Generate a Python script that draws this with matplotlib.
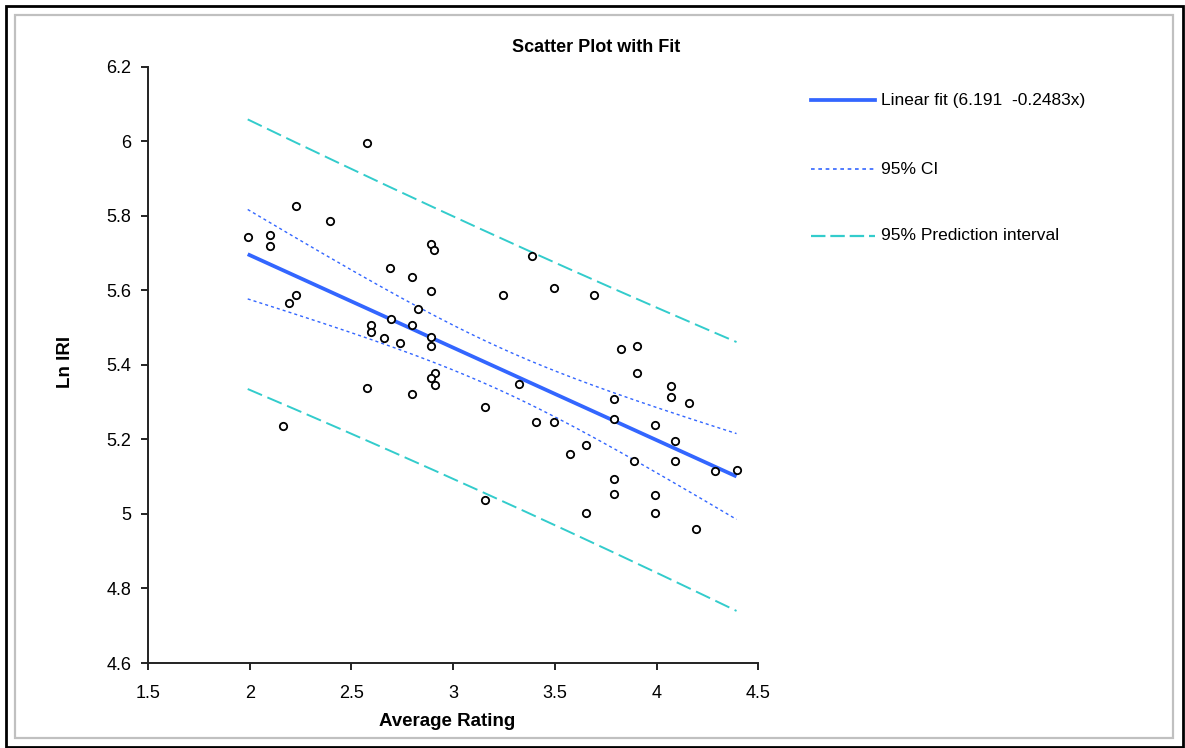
import numpy as np
import matplotlib
matplotlib.use("Agg")
import matplotlib.pyplot as plt
from matplotlib.patches import Rectangle

plt.rcParams['font.family'] = ['Liberation Sans', 'DejaVu Sans']

# ---- data ----
avg_rating = [2.578, 2.225, 2.394, 1.990, 2.098, 2.098, 2.892, 2.907, 2.691, 2.796,
              2.892, 3.245, 2.225, 2.194, 2.828,
              2.693, 2.595, 2.796, 2.595, 2.660, 2.892, 2.740, 2.892, 2.908, 2.892,
              2.908, 2.578, 2.796, 3.157, 2.162,
              3.389, 3.495, 3.694, 3.824, 3.904, 3.904, 3.325, 4.072, 4.072, 4.160,
              3.791, 3.407, 3.495, 3.791, 3.992,
              3.654, 3.574, 4.088, 4.088, 3.887, 4.288, 4.392, 3.791, 3.791, 3.992,
              3.157, 3.654, 3.992, 4.193]
ln_iri = [5.995, 5.825, 5.787, 5.744, 5.749, 5.718, 5.723, 5.709, 5.659, 5.637,
          5.599, 5.587, 5.587, 5.565, 5.549,
          5.523, 5.506, 5.506, 5.489, 5.471, 5.476, 5.459, 5.451, 5.378, 5.364,
          5.347, 5.339, 5.322, 5.288, 5.237,
          5.693, 5.607, 5.587, 5.442, 5.450, 5.378, 5.348, 5.344, 5.314, 5.297,
          5.309, 5.246, 5.246, 5.254, 5.238,
          5.186, 5.160, 5.195, 5.143, 5.143, 5.114, 5.117, 5.093, 5.054, 5.050,
          5.037, 5.003, 5.003, 4.959]

fit_intercept = 6.191
fit_slope = -0.2483
t_crit = 2.002      # t(0.975, df=57) for prediction interval
wh_crit = 2.514     # Working-Hotelling sqrt(2*F(0.95; 2, 57)) for confidence band

x_ticks = [1.5, 2, 2.5, 3, 3.5, 4, 4.5]
y_ticks = [4.6, 4.8, 5, 5.2, 5.4, 5.6, 5.8, 6, 6.2]
x_tick_labels = ['1.5', '2', '2.5', '3', '3.5', '4', '4.5']
y_tick_labels = ['4.6', '4.8', '5', '5.2', '5.4', '5.6', '5.8', '6', '6.2']

title = 'Scatter Plot with Fit'
x_label = 'Average Rating'
y_label = 'Ln IRI'
legend_labels = ['Linear fit (6.191  -0.2483x)', '95% CI', '95% Prediction interval']

# ---- statistics for bands ----
x = np.array(avg_rating)
y = np.array(ln_iri)
n = len(x)
resid = y - (fit_intercept + fit_slope * x)
s = np.sqrt(np.sum(resid ** 2) / (n - 2))
xbar = x.mean()
sxx = np.sum((x - xbar) ** 2)
xs = np.linspace(x.min(), x.max(), 200)
yfit = fit_intercept + fit_slope * xs
ci = wh_crit * s * np.sqrt(1.0 / n + (xs - xbar) ** 2 / sxx)
pi = t_crit * s * np.sqrt(1 + 1.0 / n + (xs - xbar) ** 2 / sxx)

# ---- figure ----
W, H = 1185, 748
fig = plt.figure(figsize=(W / 100, H / 100), dpi=100)
fig.patch.set_facecolor('white')

# borders
fig.patches.append(Rectangle((6 / W, 1 - 747 / H), (1183 - 6) / W, (747 - 6) / H,
                             transform=fig.transFigure, fill=False, ec='black', lw=2.0))
fig.patches.append(Rectangle((15 / W, 1 - 738 / H), (1173 - 15) / W, (738 - 15) / H,
                             transform=fig.transFigure, fill=False, ec='#c0c0c0', lw=1.6))

ax_l, ax_r, ax_t, ax_b = 148, 758.5, 66.7, 663
ax = fig.add_axes([ax_l / W, 1 - ax_b / H, (ax_r - ax_l) / W, (ax_b - ax_t) / H])
ax.set_xlim(1.5, 4.5)
ax.set_ylim(4.6, 6.2)

blue = '#3366ff'
teal = '#33cccc'
ci_style = (0, (2.2, 2.2))
pi_style = (0, (8, 3))

ax.plot(xs, yfit, color=blue, lw=2.7, solid_capstyle='butt', zorder=3)
ax.plot(xs, yfit + ci, color=blue, lw=1.0, ls=ci_style, zorder=2)
ax.plot(xs, yfit - ci, color=blue, lw=1.0, ls=ci_style, zorder=2)
ax.plot(xs, yfit + pi, color=teal, lw=1.4, ls=pi_style, zorder=2)
ax.plot(xs, yfit - pi, color=teal, lw=1.4, ls=pi_style, zorder=2)
ax.plot(x, y, ls='none', marker='o', ms=5.3, mfc='white', mec='black', mew=1.3, zorder=4)

for sp in ['top', 'right']:
    ax.spines[sp].set_visible(False)
for sp in ['left', 'bottom']:
    ax.spines[sp].set_linewidth(1.4)
    ax.spines[sp].set_color('#222222')

ax.set_xticks(x_ticks)
ax.set_xticklabels(x_tick_labels)
ax.set_yticks(y_ticks)
ax.set_yticklabels(y_tick_labels)
ax.tick_params(axis='both', direction='out', length=5, width=1.4, color='#222222',
               labelsize=13, labelcolor='black')
ax.tick_params(axis='x', pad=11)
ax.tick_params(axis='y', pad=7)

fig.text(596 / W, 1 - 47 / H, title, ha='center', va='center', fontsize=13, fontweight='bold')
fig.text(447 / W, 1 - 721 / H, x_label, ha='center', va='center', fontsize=13.5, fontweight='bold')
fig.text(65 / W, 1 - 362 / H, y_label, ha='center', va='center', fontsize=13.5,
         fontweight='bold', rotation=90)

# legend drawn manually in figure coordinates
leg_y = [100, 169, 236]
styles = [dict(color=blue, lw=2.7, ls='-'),
          dict(color=blue, lw=1.2, ls=(0, (2.2, 2.2))),
          dict(color=teal, lw=1.6, ls=(0, (6.5, 2.2)))]
for yy, lab, st in zip(leg_y, legend_labels, styles):
    fy = 1 - yy / H
    fig.add_artist(plt.Line2D([811 / W, 875 / W], [fy, fy], transform=fig.transFigure, **st))
    fig.text(881 / W, fy, lab, ha='left', va='center', fontsize=12.5)

fig.savefig('out.png', dpi=100)
